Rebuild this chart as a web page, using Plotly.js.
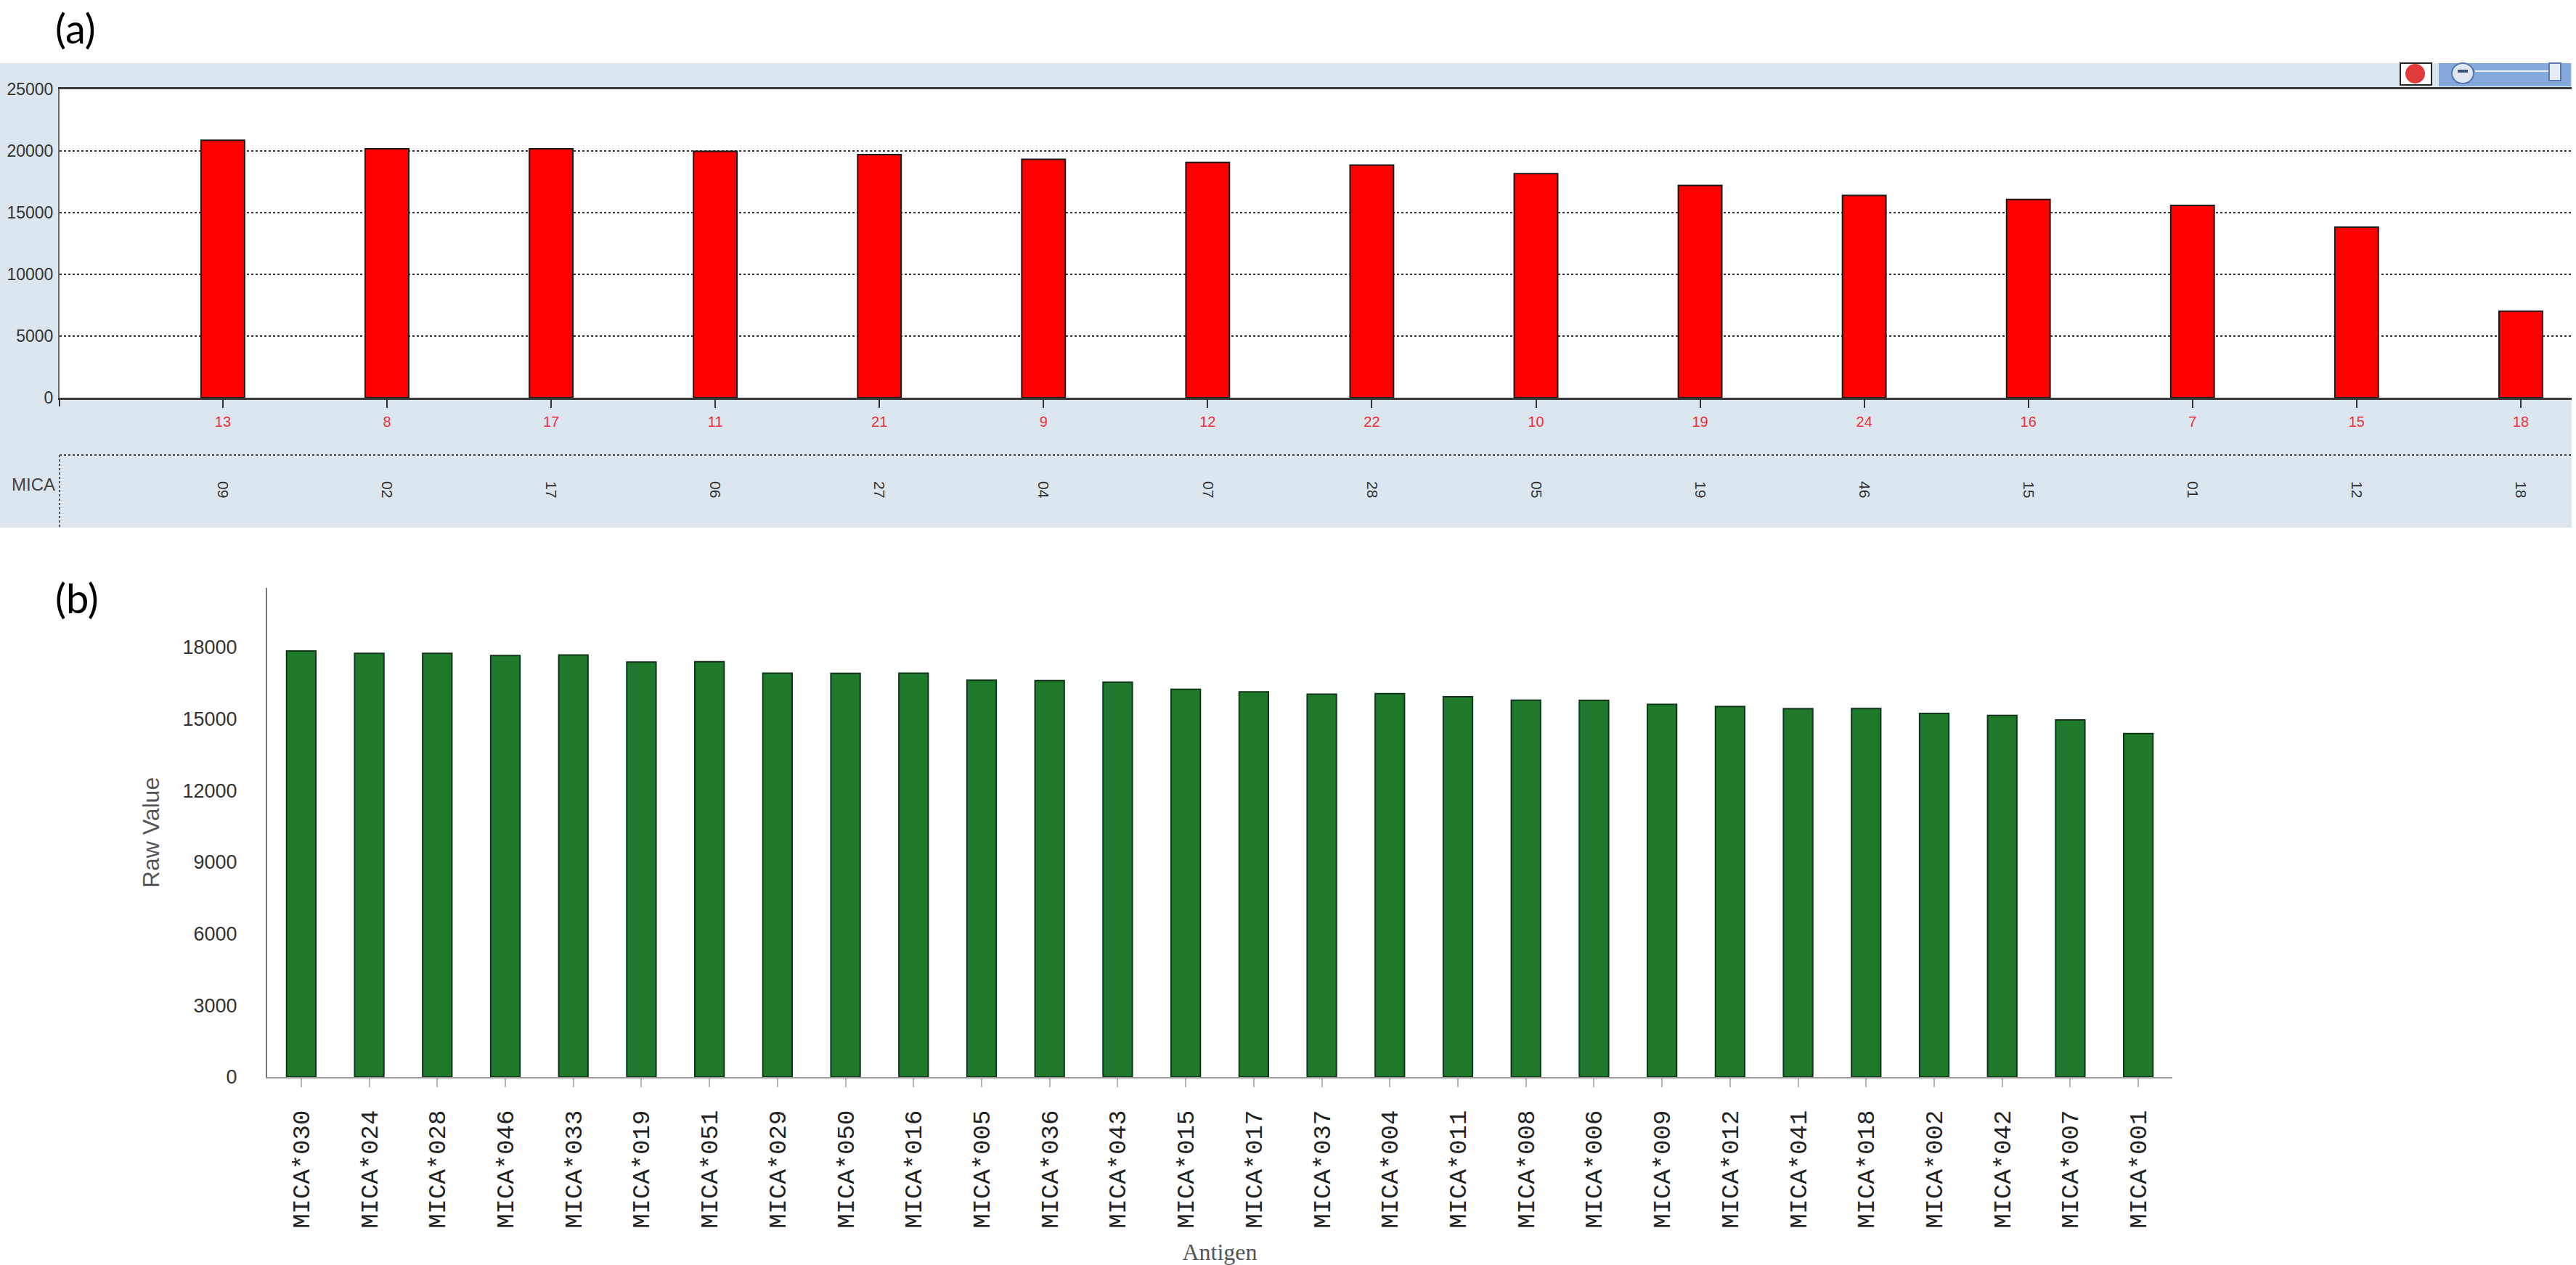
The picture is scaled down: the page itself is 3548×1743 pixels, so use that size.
<!DOCTYPE html>
<html>
<head>
<meta charset="utf-8">
<script src="https://cdn.plot.ly/plotly-3.0.1.min.js"></script>
<style>
  body { margin: 0; background: #fff; }
  #chart { width: 3548px; height: 1743px; }
</style>
</head>
<body>
<div id="chart"></div>
<script>
    // panel (a): sample numbers (red), MICA allele row, values
    var sampleIds = ['13', '8', '17', '11', '21', '9', '12', '22', '10', '19', '24', '16', '7', '15', '18'];
    var micaAlleles = ['09', '02', '17', '06', '27', '04', '07', '28', '05', '19', '46', '15', '01', '12', '18'];
    var valuesA = [20870, 20170, 20170, 19970, 19700, 19320, 19080, 18860, 18160, 17210, 16400, 16070, 15590, 13820, 7020];
    var ticksA = [0, 5000, 10000, 15000, 20000, 25000];

    // panel (b): antigens and raw values
    var antigens = ['MICA*030', 'MICA*024', 'MICA*028', 'MICA*046', 'MICA*033', 'MICA*019', 'MICA*051',
                    'MICA*029', 'MICA*050', 'MICA*016', 'MICA*005', 'MICA*036', 'MICA*043', 'MICA*015',
                    'MICA*017', 'MICA*037', 'MICA*004', 'MICA*011', 'MICA*008', 'MICA*006', 'MICA*009',
                    'MICA*012', 'MICA*041', 'MICA*018', 'MICA*002', 'MICA*042', 'MICA*007', 'MICA*001'];
    var valuesB = [17840, 17740, 17740, 17650, 17670, 17370, 17390, 16910, 16900, 16910, 16610, 16600,
                   16530, 16230, 16130, 16030, 16050, 15920, 15780, 15770, 15600, 15510, 15420, 15430,
                   15220, 15140, 14950, 14380];
    var ticksB = [0, 3000, 6000, 9000, 12000, 15000, 18000];

    var W = 3548, H = 1743;
    function px(x) { return x / W; }
    function py(y) { return 1 - y / H; }

    var sans = 'Liberation Sans, Arial, sans-serif';
    var narrow = 'Liberation Sans Narrow, Liberation Sans, Arial, sans-serif';

    var data = [
        {
            type: 'bar', x: sampleIds, y: valuesA, xaxis: 'x', yaxis: 'y',
            width: 0.265,
            marker: {color: '#ff0000', line: {color: '#1a1a1a', width: 2}},
            hoverinfo: 'skip'
        },
        {
            // carries the MICA allele row axis
            type: 'scatter', mode: 'none', x: sampleIds, y: valuesA, xaxis: 'x3', yaxis: 'y',
            hoverinfo: 'skip', showlegend: false
        },
        {
            type: 'bar', x: antigens, y: valuesB, xaxis: 'x2', yaxis: 'y2',
            width: 0.43,
            marker: {color: '#1f7a2c', line: {color: '#12361a', width: 2}},
            hoverinfo: 'skip'
        }
    ];

    var layout = {
        width: W, height: H,
        margin: {l: 0, r: 0, t: 0, b: 0},
        paper_bgcolor: '#ffffff',
        plot_bgcolor: 'rgba(0,0,0,0)',
        showlegend: false,
        xaxis: {
            domain: [px(82), px(3542)],
            type: 'category', categoryorder: 'array', categoryarray: sampleIds,
            range: [-0.995, 14.31],
            showline: true, mirror: true, linecolor: '#3a3a3a', linewidth: 3,
            ticks: 'outside', ticklen: 11, tickwidth: 2, tickcolor: '#333',
            tickfont: {family: narrow, size: 20, color: '#e8323c'},
            ticklabelstandoff: 2,
            showgrid: false, zeroline: false, fixedrange: true
        },
        xaxis3: {
            overlaying: 'x', anchor: 'free', position: py(662), side: 'bottom',
            type: 'category', categoryorder: 'array', categoryarray: sampleIds,
            tickvals: sampleIds, ticktext: micaAlleles,
            range: [-0.995, 14.31],
            showline: false, ticks: '', showgrid: false, zeroline: false,
            tickangle: 90,
            tickfont: {family: sans, size: 21, color: '#333'}
        },
        yaxis: {
            domain: [py(548), py(123)],
            range: [0, 25000],
            tickvals: ticksA,
            ticktext: ticksA.map(String),
            showline: true, linecolor: '#6a6a6a', linewidth: 2, ticks: '',
            tickfont: {family: sans, size: 23, color: '#333'},
            ticklabelstandoff: 2,
            showgrid: true, gridcolor: '#333', gridwidth: 2, griddash: 'dot',
            zeroline: false, fixedrange: true
        },
        xaxis2: {
            domain: [px(368), px(2992)],
            anchor: 'y2',
            type: 'category', categoryorder: 'array', categoryarray: antigens,
            range: [-0.5, 27.5],
            showline: true, linecolor: '#9a9a9a', linewidth: 2,
            ticks: 'outside', ticklen: 12, tickwidth: 2, tickcolor: '#b5b5b5',
            tickangle: -90,
            tickfont: {family: 'Liberation Mono, Courier New, monospace', size: 34, color: '#222'},
            ticklabelstandoff: 18,
            title: {text: 'Antigen', standoff: 30,
                    font: {family: 'Liberation Serif, Times New Roman, serif', size: 32, color: '#555'}},
            showgrid: false, zeroline: false, fixedrange: true
        },
        yaxis2: {
            domain: [py(1484), py(810)],
            anchor: 'x2',
            range: [0, 20480],
            tickvals: ticksB,
            ticktext: ticksB.map(String),
            showline: true, linecolor: '#777', linewidth: 2,
            ticks: '',
            tickfont: {family: sans, size: 27, color: '#333'},
            ticklabelstandoff: 34,
            title: {text: 'Raw Value', standoff: 22, font: {family: sans, size: 32, color: '#555'}},
            showgrid: false, zeroline: false, fixedrange: true
        },
        shapes: [
            // light blue panel band behind chart (a)
            {type: 'rect', xref: 'paper', yref: 'paper', layer: 'below',
             x0: 0, x1: px(3542), y0: py(727), y1: py(87),
             fillcolor: '#dce6ee', line: {width: 0}},
            // white plotting area of chart (a)
            {type: 'rect', xref: 'paper', yref: 'paper', layer: 'below',
             x0: px(82), x1: px(3542), y0: py(548), y1: py(123),
             fillcolor: '#ffffff', line: {width: 0}},
            // separator above MICA row
            {type: 'line', xref: 'paper', yref: 'paper',
             x0: px(82), x1: px(3542), y0: py(627), y1: py(627),
             line: {color: '#444', width: 2, dash: 'dot'}},
            {type: 'line', xref: 'paper', yref: 'paper',
             x0: px(82), x1: px(82), y0: py(627), y1: py(727),
             line: {color: '#555', width: 2, dash: 'dot'}},
            // tick at start of the x axis
            {type: 'line', xref: 'paper', yref: 'paper',
             x0: px(82), x1: px(82), y0: py(548), y1: py(560),
             line: {color: '#333', width: 2}},
            // toolbar icon (red dot)
            {type: 'rect', xref: 'paper', yref: 'paper',
             x0: px(3306), x1: px(3349), y0: py(117), y1: py(87),
             fillcolor: '#ffffff', line: {color: '#222', width: 2}},
            {type: 'circle', xref: 'paper', yref: 'paper',
             x0: px(3313), x1: px(3340), y0: py(115), y1: py(88),
             fillcolor: '#e03a3a', line: {width: 0}},
            // zoom slider
            {type: 'rect', xref: 'paper', yref: 'paper',
             x0: px(3359), x1: px(3541), y0: py(119), y1: py(87),
             fillcolor: '#86a9dc', line: {width: 0}},
            {type: 'circle', xref: 'paper', yref: 'paper',
             x0: px(3377), x1: px(3407), y0: py(115), y1: py(87),
             fillcolor: '#dfe7f4', line: {color: '#5577aa', width: 2}},
            {type: 'line', xref: 'paper', yref: 'paper',
             x0: px(3385), x1: px(3399), y0: py(98), y1: py(98),
             line: {color: '#3b4f70', width: 4}},
            {type: 'line', xref: 'paper', yref: 'paper',
             x0: px(3409), x1: px(3512), y0: py(98), y1: py(98),
             line: {color: '#eef3fb', width: 2}},
            {type: 'rect', xref: 'paper', yref: 'paper',
             x0: px(3511), x1: px(3527), y0: py(111), y1: py(87),
             fillcolor: '#e8eef8', line: {color: '#5a7bb0', width: 2}}
        ],
        annotations: [
            {text: '(a)', xref: 'paper', yref: 'paper', x: px(74), y: py(38),
             xanchor: 'left', yanchor: 'middle', showarrow: false,
             font: {family: 'Lato, Open Sans, sans-serif', size: 56, color: '#000'}},
            {text: '(b)', xref: 'paper', yref: 'paper', x: px(74), y: py(823),
             xanchor: 'left', yanchor: 'middle', showarrow: false,
             font: {family: 'Lato, Open Sans, sans-serif', size: 56, color: '#000'}},
            {text: 'MICA', xref: 'paper', yref: 'paper', x: px(14), y: py(668),
             xanchor: 'left', yanchor: 'middle', showarrow: false,
             font: {family: narrow, size: 24, color: '#444'}}
        ]
    };

    var config = {responsive: false, displayModeBar: false, staticPlot: true};
    Plotly.newPlot('chart', data, layout, config);
</script>
</body>
</html>
